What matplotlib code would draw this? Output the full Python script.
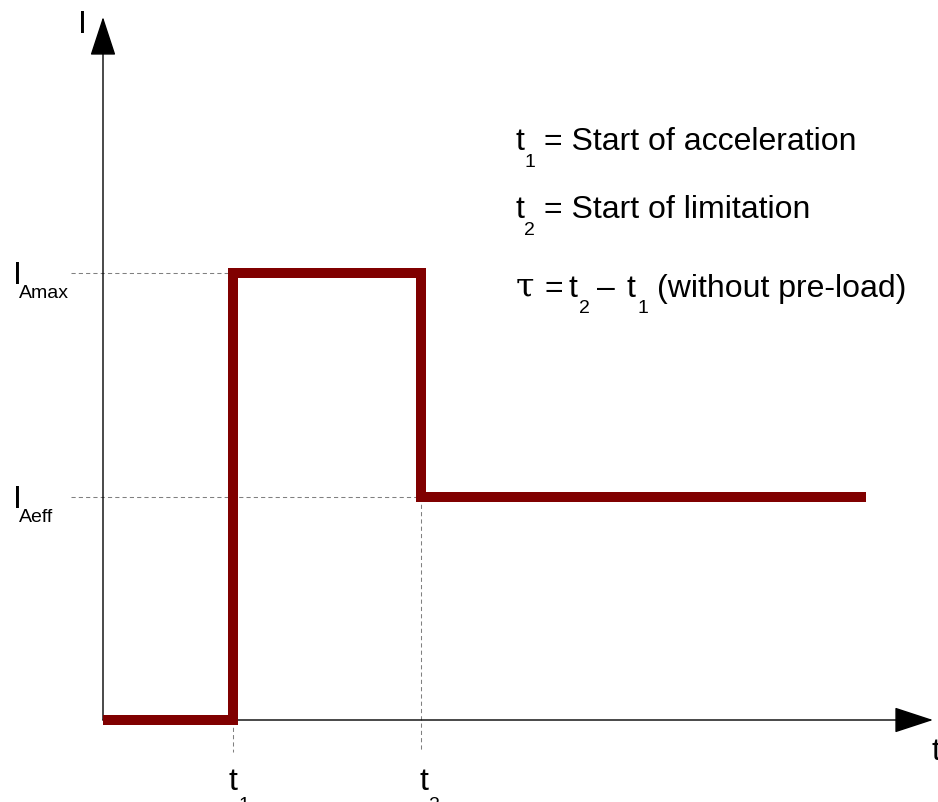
import matplotlib
matplotlib.use('Agg')
import matplotlib.pyplot as plt

plt.rcParams['font.family'] = ['Liberation Sans', 'DejaVu Sans']

# Current profile (time in arbitrary units, current in arbitrary units)
time = [0.0, 1.30, 3.18, 7.63]
current = [0.0, 4.47, 2.23, 2.23]
t1 = time[1]
t2 = time[2]
i_amax = current[1]
i_aeff = current[2]

fig = plt.figure(figsize=(9.38, 8.02), dpi=100)
ax = fig.add_axes([0, 0, 1, 1])
# 1 unit = 100 px, origin where the two axes cross
ax.set_xlim(-1.03, 8.35)
ax.set_ylim(-0.82, 7.20)
ax.set_axis_off()


def at(px, py):
    # figure pixel position -> data position
    return (px - 103) / 100.0, (720 - py) / 100.0


# axes with filled arrow heads
arrow = dict(arrowstyle='-|>,head_length=1.25,head_width=0.41', mutation_scale=20,
             color='black', lw=1.0, shrinkA=0, shrinkB=0)
ax.annotate('', xy=(0, 7.03), xytext=(0, 0), arrowprops=arrow)
ax.annotate('', xy=(8.30, 0), xytext=(0, 0), arrowprops=arrow)

# dashed guide lines
guide = dict(color='#808080', lw=0.75, linestyle=(0, (4, 3)), zorder=1)
ax.plot([-0.32, t1], [i_amax, i_amax], **guide)
ax.plot([-0.32, t2], [i_aeff, i_aeff], **guide)
ax.plot([t1, t1], [0, -0.32], **guide)
ax.plot([t2, t2], [i_aeff, -0.32], **guide)

# current step
ax.plot(time, current, drawstyle='steps-post', color='#800000', lw=7.2,
        solid_joinstyle='miter', solid_capstyle='butt', zorder=3)


def put(s, px, py, size=23, **kw):
    x, y = at(px, py)
    ax.text(x, y, s, fontsize=size, ha='left', va='baseline', **kw)


SUB = 14

# axis labels
put('I', 78, 33)
put('t', 931, 760)

put('I', 13, 284)
put('Amax', 19, 298, SUB)
put('I', 13, 508)
put('Aeff', 19, 522, SUB)

put('t', 228, 790)
put('1', 238, 810, SUB)
put('t', 419, 790)
put('2', 429, 810, SUB)

# legend text
put('t', 515, 150)
put('1', 524, 167, SUB)
put('= Start of acceleration', 544, 150)

put('t', 515, 218)
put('2', 524, 235, SUB)
put('= Start of limitation', 544, 218)

put('τ', 516, 297, 24, family='DejaVu Serif')
put('=', 544, 297)
put('t', 568, 297)
put('2', 579, 313, SUB)
put('–', 597, 297)
put('t', 626, 297)
put('1', 637, 313, SUB)
put('(without pre-load)', 657, 297)

fig.savefig('out.png', dpi=100)
